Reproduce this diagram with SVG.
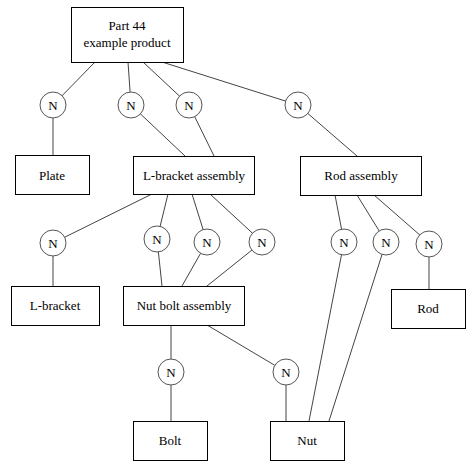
<svg xmlns="http://www.w3.org/2000/svg" width="476" height="469" viewBox="0 0 476 469">
<style>
.box{fill:#fff;stroke:#000;stroke-width:1}
.c{fill:#fff;stroke:#555;stroke-width:1}
.t{font-family:'Times New Roman','Liberation Serif','DejaVu Serif',serif;font-size:13px;fill:#000;text-anchor:middle}
.e{stroke:#444;stroke-width:1;fill:none}
</style>
<rect width="476" height="469" fill="#fff"/>
<g id="connectors">
<line class="e" x1="95" y1="62" x2="53" y2="105"/>
<line class="e" x1="128" y1="62" x2="131" y2="105"/>
<line class="e" x1="143" y1="62" x2="189" y2="105"/>
<line class="e" x1="162" y1="62" x2="298" y2="105"/>
<line class="e" x1="53" y1="105" x2="53" y2="155"/>
<line class="e" x1="131" y1="105" x2="185" y2="156"/>
<line class="e" x1="189" y1="105" x2="214" y2="156"/>
<line class="e" x1="298" y1="105" x2="357" y2="156"/>
<line class="e" x1="152" y1="194" x2="53" y2="243"/>
<line class="e" x1="168" y1="194" x2="157" y2="239"/>
<line class="e" x1="192" y1="194" x2="207" y2="242"/>
<line class="e" x1="210" y1="194" x2="262" y2="242"/>
<line class="e" x1="53" y1="243" x2="53" y2="286"/>
<line class="e" x1="157" y1="239" x2="162" y2="286"/>
<line class="e" x1="207" y1="242" x2="182" y2="286"/>
<line class="e" x1="262" y1="242" x2="207" y2="286"/>
<line class="e" x1="335" y1="195" x2="344" y2="242"/>
<line class="e" x1="357" y1="195" x2="386" y2="242"/>
<line class="e" x1="374" y1="195" x2="429" y2="243"/>
<line class="e" x1="429" y1="243" x2="429" y2="289"/>
<line class="e" x1="344" y1="242" x2="309" y2="421"/>
<line class="e" x1="386" y1="242" x2="329" y2="421"/>
<line class="e" x1="171" y1="325" x2="171" y2="421"/>
<line class="e" x1="207" y1="325" x2="286" y2="372"/>
<line class="e" x1="286" y1="372" x2="286" y2="421"/>
</g>
<g id="part44"><rect class="box" x="71.5" y="7.5" width="112" height="55"/><text class="t" x="127" y="30">Part 44</text><text class="t" x="127" y="47">example product</text></g>
<g id="n1"><circle class="c" cx="53" cy="105" r="13"/><text class="t" x="53" y="110">N</text></g>
<g id="n2"><circle class="c" cx="131" cy="105" r="13"/><text class="t" x="131" y="110">N</text></g>
<g id="n3"><circle class="c" cx="189" cy="105" r="13"/><text class="t" x="189" y="110">N</text></g>
<g id="n4"><circle class="c" cx="298" cy="105" r="13"/><text class="t" x="298" y="110">N</text></g>
<g id="plate"><rect class="box" x="15.5" y="155.5" width="74" height="39"/><text class="t" x="52" y="180">Plate</text></g>
<g id="lbracketassembly"><rect class="box" x="133.5" y="156.5" width="121" height="38"/><text class="t" x="194" y="180">L-bracket assembly</text></g>
<g id="rodassembly"><rect class="box" x="300.5" y="156.5" width="121" height="39"/><text class="t" x="361" y="180">Rod assembly</text></g>
<g id="n5"><circle class="c" cx="53" cy="243" r="13"/><text class="t" x="53" y="248">N</text></g>
<g id="n6"><circle class="c" cx="157" cy="239" r="13"/><text class="t" x="157" y="244">N</text></g>
<g id="n7"><circle class="c" cx="207" cy="242" r="13"/><text class="t" x="207" y="247">N</text></g>
<g id="n8"><circle class="c" cx="262" cy="242" r="13"/><text class="t" x="262" y="247">N</text></g>
<g id="n9"><circle class="c" cx="344" cy="242" r="13"/><text class="t" x="344" y="247">N</text></g>
<g id="n10"><circle class="c" cx="386" cy="242" r="13"/><text class="t" x="386" y="247">N</text></g>
<g id="n11"><circle class="c" cx="429" cy="244" r="13"/><text class="t" x="429" y="249">N</text></g>
<g id="lbracket"><rect class="box" x="11.5" y="286.5" width="88" height="39"/><text class="t" x="55" y="310">L-bracket</text></g>
<g id="nutboltassembly"><rect class="box" x="123.5" y="286.5" width="121" height="39"/><text class="t" x="184" y="310">Nut bolt assembly</text></g>
<g id="rod"><rect class="box" x="391.5" y="289.5" width="74" height="39"/><text class="t" x="428" y="313">Rod</text></g>
<g id="n12"><circle class="c" cx="171" cy="372" r="13"/><text class="t" x="171" y="377">N</text></g>
<g id="n13"><circle class="c" cx="286" cy="372" r="13"/><text class="t" x="286" y="377">N</text></g>
<g id="bolt"><rect class="box" x="133.5" y="421.5" width="74" height="39"/><text class="t" x="170" y="445">Bolt</text></g>
<g id="nut"><rect class="box" x="270.5" y="421.5" width="74" height="39"/><text class="t" x="307" y="445">Nut</text></g>
</svg>
